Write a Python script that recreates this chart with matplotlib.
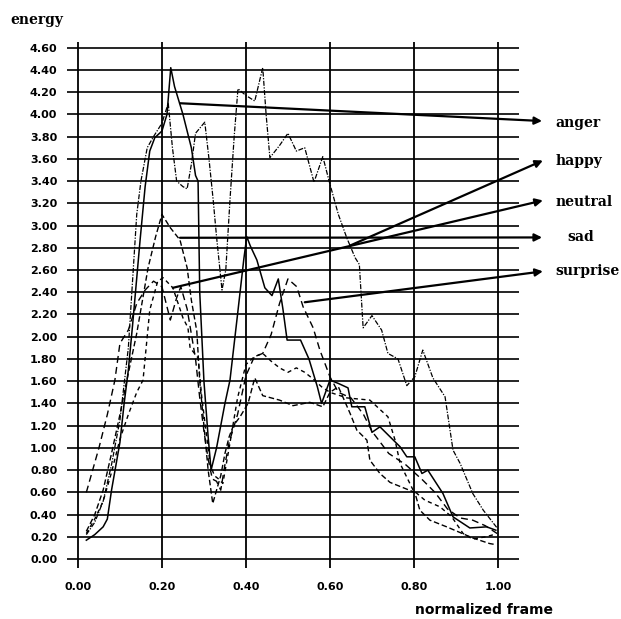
# energy curves per emotion, normalized frame

import matplotlib.pyplot as plt

# ---- data ----
anger_x = [0.02, 0.04, 0.06, 0.07, 0.08, 0.10, 0.11, 0.12, 0.13, 0.148, 0.16, 0.171, 0.183, 0.20, 0.212, 0.221,
           0.23, 0.25, 0.27, 0.28, 0.286, 0.29, 0.30, 0.31, 0.317, 0.33, 0.34, 0.35, 0.362, 0.38, 0.395, 0.402,
           0.41, 0.426, 0.445, 0.462, 0.477, 0.488, 0.498, 0.53, 0.55, 0.57, 0.58, 0.60, 0.62, 0.643, 0.652,
           0.683, 0.70, 0.719, 0.767, 0.783, 0.802, 0.819, 0.833, 0.869, 0.893, 0.933, 0.973, 0.995]
anger_y = [0.17, 0.22, 0.29, 0.36, 0.62, 1.05, 1.40, 1.70, 2.10, 2.87, 3.35, 3.67, 3.79, 3.85, 4.00, 4.42,
           4.25, 4.00, 3.70, 3.45, 3.40, 2.40, 1.60, 1.10, 0.80, 1.00, 1.20, 1.40, 1.61, 2.20, 2.70, 2.90,
           2.82, 2.69, 2.44, 2.37, 2.52, 2.25, 1.97, 1.97, 1.80, 1.55, 1.40, 1.61, 1.58, 1.54, 1.37,
           1.37, 1.14, 1.19, 1.01, 0.92, 0.92, 0.77, 0.80, 0.59, 0.38, 0.28, 0.29, 0.26]

happy_x = [0.02, 0.04, 0.06, 0.08, 0.10, 0.12, 0.13, 0.14, 0.15, 0.165, 0.18, 0.20, 0.215, 0.225, 0.235,
           0.25, 0.26, 0.27, 0.28, 0.302, 0.312, 0.322, 0.33, 0.343, 0.352, 0.362, 0.372, 0.381, 0.40,
           0.421, 0.44, 0.448, 0.457, 0.48, 0.50, 0.52, 0.54, 0.562, 0.583, 0.598, 0.62, 0.64, 0.66, 0.67,
           0.679, 0.70, 0.723, 0.738, 0.762, 0.783, 0.802, 0.821, 0.845, 0.874, 0.893, 0.91, 0.94, 0.965, 0.998]
happy_y = [0.22, 0.33, 0.52, 0.85, 1.25, 1.90, 2.50, 3.10, 3.40, 3.70, 3.80, 3.92, 4.10, 3.70, 3.40,
           3.35, 3.33, 3.55, 3.83, 3.93, 3.60, 3.23, 2.90, 2.42, 2.60, 3.23, 3.80, 4.23, 4.17,
           4.12, 4.42, 4.00, 3.61, 3.72, 3.83, 3.67, 3.70, 3.39, 3.62, 3.40, 3.10, 2.89, 2.71, 2.65,
           2.08, 2.19, 2.06, 1.85, 1.80, 1.56, 1.64, 1.88, 1.63, 1.46, 0.98, 0.86, 0.59, 0.44, 0.28]

sad_x = [0.02, 0.04, 0.06, 0.08, 0.10, 0.116, 0.14, 0.167, 0.185, 0.20, 0.22, 0.243, 0.26, 0.27, 0.283,
         0.29, 0.30, 0.31, 0.321, 0.33, 0.34, 0.35, 0.36, 0.37, 0.386, 0.405, 0.421, 0.44, 0.48, 0.512,
         0.552, 0.583, 0.60, 0.62, 0.648, 0.664, 0.688, 0.695, 0.719, 0.743, 0.802, 0.814, 0.838, 0.878,
         0.94, 0.98, 0.995]
sad_y = [0.25, 0.40, 0.62, 0.95, 1.30, 1.60, 2.03, 2.62, 2.90, 3.10, 2.98, 2.87, 2.62, 2.33, 2.05,
         1.60, 1.20, 0.80, 0.50, 0.62, 0.75, 0.95, 1.10, 1.20, 1.28, 1.40, 1.63, 1.47, 1.43, 1.38,
         1.41, 1.37, 1.50, 1.55, 1.31, 1.16, 1.07, 0.89, 0.77, 0.69, 0.60, 0.44, 0.35, 0.29,
         0.19, 0.14, 0.13]

neutral_x = [0.02, 0.04, 0.06, 0.08, 0.10, 0.12, 0.14, 0.155, 0.171, 0.19, 0.203, 0.226, 0.25, 0.262,
             0.267, 0.286, 0.295, 0.305, 0.315, 0.325, 0.335, 0.345, 0.36, 0.38, 0.40, 0.42, 0.44, 0.46,
             0.48, 0.50, 0.52, 0.54, 0.56, 0.58, 0.60, 0.64, 0.695, 0.738, 0.755, 0.767, 0.798, 0.826,
             0.862, 0.89, 0.917, 0.94, 0.97, 0.99]
neutral_y = [0.23, 0.36, 0.52, 0.78, 1.08, 1.30, 1.50, 1.61, 2.24, 2.50, 2.53, 2.44, 2.17, 2.08,
             1.90, 1.81, 1.45, 1.15, 0.85, 0.75, 0.72, 0.68, 1.00, 1.45, 1.75, 1.82, 1.85, 1.78,
             1.72, 1.68, 1.72, 1.68, 1.62, 1.55, 1.50, 1.45, 1.43, 1.28, 1.07, 0.86, 0.62, 0.53,
             0.47, 0.38, 0.23, 0.18, 0.20, 0.22]

surprise_x = [0.02, 0.05, 0.07, 0.088, 0.10, 0.12, 0.131, 0.14, 0.16, 0.18, 0.20, 0.21, 0.22, 0.235,
              0.245, 0.26, 0.28, 0.29, 0.30, 0.31, 0.32, 0.33, 0.34, 0.35, 0.36, 0.38, 0.40, 0.42, 0.44,
              0.46, 0.48, 0.50, 0.521, 0.536, 0.56, 0.576, 0.60, 0.62, 0.65, 0.68, 0.70, 0.74, 0.78,
              0.821, 0.85, 0.88, 0.91, 0.94, 0.97, 0.998]
surprise_y = [0.60, 1.00, 1.30, 1.61, 1.94, 2.06, 2.19, 2.30, 2.42, 2.50, 2.45, 2.30, 2.15, 2.35,
              2.45, 2.25, 1.80, 1.45, 1.15, 0.90, 0.72, 0.70, 0.62, 0.85, 1.05, 1.30, 1.65, 1.82, 1.85,
              2.02, 2.30, 2.52, 2.45, 2.27, 2.08, 1.88, 1.64, 1.50, 1.45, 1.30, 1.15, 0.95, 0.85,
              0.71, 0.60, 0.45, 0.37, 0.35, 0.30, 0.23]

# label arrows: (start on curve) -> (end near label)
labels = ['anger', 'happy', 'neutral', 'sad', 'surprise']
arrow_start = [(0.243, 4.10), (0.648, 2.82), (0.226, 2.44), (0.243, 2.89), (0.540, 2.31)]
arrow_end = [(1.105, 3.94), (1.107, 3.585), (1.107, 3.226), (1.105, 2.893), (1.107, 2.588)]
label_y = [3.926, 3.585, 3.21, 2.893, 2.588]
label_x = [1.136, 1.136, 1.136, 1.165, 1.136]

yticks = [round(0.2 * i, 2) for i in range(24)]
xticks = [0.0, 0.2, 0.4, 0.6, 0.8, 1.0]

fig = plt.figure(figsize=(6.21, 6.19), dpi=100)
ax = fig.add_axes([0.1079, 0.0824, 0.7278, 0.8496])
ax.set_xlim(-0.026, 1.05)
ax.set_ylim(-0.08, 4.65)
for s in ax.spines.values():
    s.set_visible(False)

# grid
ax.hlines(yticks, -0.026, 1.05, color='black', lw=1.2, zorder=1)
ax.vlines(xticks, -0.08, 4.65, color='black', lw=1.3, zorder=1)

ax.plot(anger_x, anger_y, color='black', lw=1.1, zorder=3)
ax.plot(happy_x, happy_y, color='black', lw=0.9, dashes=(4, 1.2, 1, 1.2), zorder=3)
ax.plot(sad_x, sad_y, color='black', lw=1.0, dashes=(4, 2), zorder=3)
ax.plot(neutral_x, neutral_y, color='black', lw=1.0, dashes=(3, 2.5), zorder=3)
ax.plot(surprise_x, surprise_y, color='black', lw=1.0, dashes=(5, 3), zorder=3)

for name, a, b, lx, ly in zip(labels, arrow_start, arrow_end, label_x, label_y):
    ax.annotate('', xy=b, xytext=a, annotation_clip=False,
                arrowprops=dict(arrowstyle='-|>', lw=1.6, color='black', mutation_scale=11,
                                shrinkA=0, shrinkB=0))
    ax.text(lx, ly, name, fontsize=10, fontweight='bold', family='DejaVu Serif',
            ha='left', va='center', clip_on=False)

ax.set_yticks(yticks)
ax.set_yticklabels(['%.2f' % v for v in yticks], fontsize=8, fontweight='bold')
ax.set_xticks(xticks)
ax.set_xticklabels(['%.2f' % v for v in xticks], fontsize=8, fontweight='bold')
ax.tick_params(axis='y', length=0, pad=7)
ax.tick_params(axis='x', length=0, pad=10)

fig.text(10 / 621, 1 - 20 / 619, 'energy', fontsize=10, fontweight='bold', family='DejaVu Serif',
         ha='left', va='center')
fig.text(415 / 621, 1 - 610 / 619, 'normalized frame', fontsize=10, fontweight='bold',
         ha='left', va='center')

fig.savefig('out.png', dpi=100)
